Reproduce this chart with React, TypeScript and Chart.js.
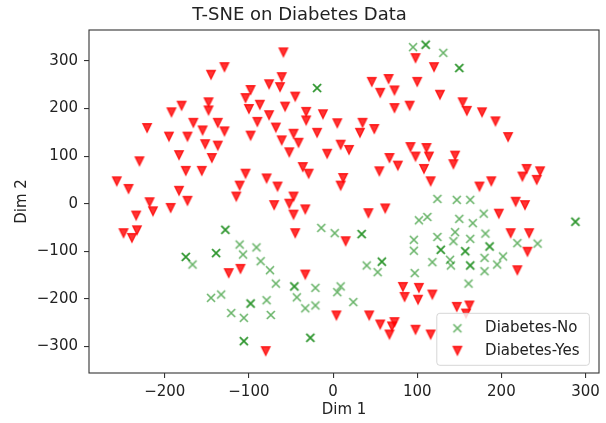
import React, { useEffect, useRef } from "react";
import { Chart, registerables } from "chart.js";

Chart.register(...registerables);

const TITLE = "T-SNE on Diabetes Data";
const X_LABEL = "Dim 1";
const Y_LABEL = "Dim 2";
const X_TICKS = [-200, -100, 0, 100, 200, 300];
const Y_TICKS = [-300, -200, -100, 0, 100, 200, 300];
const X_RANGE = [-290, 316];
const Y_RANGE = [-356, 365];
const NO_LABEL = "Diabetes-No";
const YES_LABEL = "Diabetes-Yes";

// Diabetes-No (green x); repeated entries are overlapping points
const NO_X = [
  -19, -19, -128, -128, -175, -175, -167, -139, -139, -111, -107, -91, -86, -75, -68,
  -46, -46, -21, -43, -33, -21, -14, 2, 5, -145, -133, -98, -98, -121, -106, -79, -74,
  -106, -106, -27, -27, 95, 110, 110, 131, 150, 150, 124, 147, 163, 288, 288, 34, 34,
  102, 112, 150, 179, 166, 145, 124, 96, 96, 128, 128, 143, 163, 181, 186, 186, 157, 157,
  139, 140, 163, 163, 180, 202, 195, 180, 219, 243, 118, 97, 161, 40, 58, 58, 53, 9, 24,
];
const NO_Y = [
  243, 243, -55, -55, -112, -112, -128, -104, -104, -86, -107, -92, -121, -140, -168,
  -174, -174, -177, -197, -220, -214, -51, -62, -186, -198, -191, -210, -210, -230, -240, -203, -234,
  -289, -289, -282, -282, 329, 334, 334, 317, 285, 285, 10, 8, 8, -38, -38, -64, -64,
  -35, -28, -32, -21, -41, -60, -70, -76, -99, -97, -97, -79, -74, -63, -90, -90, -100, -100,
  -118, -130, -130, -130, -114, -111, -128, -142, -83, -84, -123, -146, -168, -130, -122, -122, -144, -174, -207,
];

// Diabetes-Yes (red downward triangles)
const YES_X = [
  -59, -129, -145, -61, -76, -63, -98, -45, -104, -87, -148, -180, -192, -148, -100, -57,
  -76, -32, -32, -12, 5, -221, -166, -137, -90, -155, -129, -195, -173, -98, -68, -47,
  -19, -61, -41, -152, -137, -183, -144, -52, -7, 9, -230, -175, -156, -104, -36, -29,
  -79, -257, -243, -183, -111, -66, -115, -173, -47, -218, -214, -193, -70, -52, -33, 9,
  -234, -249, -233, -239, -47, -45, -124, -110, -33, 4, -80,
  98, 120, 46, 66, 100, 56, 73, 127, 73, 91, 154, 159, 177, 193, 208, 35, 32, 49, 19,
  92, 111, 98, 114, 145, 143, 67, 77, 55, 108, 116, 12, 174, 188, 230, 225, 246, 242,
  217, 228, 42, 62,
  197, 15, 211, 233, 231, 219, 83, 102, 85, 101, 118, 147, 162, 158, 43, 56, 73, 70, 67, 98, 116,
];
const YES_Y = [
  318, 287, 271, 266, 251, 245, 239, 225, 222, 208, 213, 206, 192, 196, 199, 204,
  186, 193, 175, 188, 169, 159, 170, 170, 172, 154, 152, 141, 141, 143, 160, 147,
  149, 133, 128, 125, 122, 102, 96, 108, 105, 124, 89, 69, 69, 63, 77, 63,
  53, 47, 31, 27, 38, 36, 15, 6, 15, 3, -16, -9, -3, 0, -12, 38,
  -25, -62, -56, -72, -23, -62, -146, -137, -149, -235, -310,
  306, 287, 256, 262, 256, 233, 238, 229, 201, 206, 213, 195, 192, 173, 140, 170, 149, 157, 113,
  119, 117, 99, 99, 101, 83, 96, 80, 68, 73, 47, 54, 36, 47, 73, 57, 68, 50,
  4, -3, -20, -10,
  -21, -79, -62, -62, -101, -140, -175, -177, -196, -202, -191, -217, -214, -231, -235, -254, -249, -258, -275, -265, -275,
];

const FONT_FAMILY = "'DejaVu Sans', 'Liberation Sans', sans-serif";
const TEXT_COLOR = "#222";
const LINE_COLOR = "#333";

function makeTriangle(): HTMLCanvasElement {
  const c = document.createElement("canvas");
  c.width = 14;
  c.height = 14;
  const g = c.getContext("2d")!;
  const h = 4.2;
  g.beginPath();
  g.moveTo(7 - h, 7 - h);
  g.lineTo(7 + h, 7 - h);
  g.lineTo(7, 7 + h);
  g.closePath();
  g.fillStyle = "rgba(255,0,0,0.8)";
  g.fill();
  g.lineWidth = 1.4;
  g.lineJoin = "miter";
  g.strokeStyle = "rgba(255,0,0,0.8)";
  g.stroke();
  return c;
}

function makeCross(): HTMLCanvasElement {
  const c = document.createElement("canvas");
  c.width = 12;
  c.height = 12;
  const g = c.getContext("2d")!;
  const h = 4.0;
  g.beginPath();
  g.moveTo(6 - h, 6 - h);
  g.lineTo(6 + h, 6 + h);
  g.moveTo(6 - h, 6 + h);
  g.lineTo(6 + h, 6 - h);
  g.lineWidth = 1.6;
  g.lineCap = "butt";
  g.strokeStyle = "rgba(0,128,0,0.6)";
  g.stroke();
  return c;
}

const fmt = (v: number | string) => String(v).replace("-", "\u2212");

const framePlugin = {
  id: "mplFrame",
  afterDatasetsDraw(chart: any) {
    const { ctx, chartArea: a } = chart;
    ctx.save();
    ctx.strokeStyle = LINE_COLOR;
    ctx.lineWidth = 1.1;
    ctx.strokeRect(a.left, a.top, a.right - a.left, a.bottom - a.top);
    ctx.restore();
  },
};

const legendPlugin = {
  id: "mplLegend",
  afterDraw(chart: any) {
    const { ctx, chartArea: a } = chart;
    const w = 152.6;
    const h = 52;
    const right = a.right - 9.6;
    const bottom = a.bottom - 7.7;
    const left = right - w;
    const top = bottom - h;
    ctx.save();
    ctx.beginPath();
    const r = 3;
    ctx.moveTo(left + r, top);
    ctx.lineTo(right - r, top);
    ctx.arcTo(right, top, right, top + r, r);
    ctx.lineTo(right, bottom - r);
    ctx.arcTo(right, bottom, right - r, bottom, r);
    ctx.lineTo(left + r, bottom);
    ctx.arcTo(left, bottom, left, bottom - r, r);
    ctx.lineTo(left, top + r);
    ctx.arcTo(left, top, left + r, top, r);
    ctx.closePath();
    ctx.fillStyle = "rgba(255,255,255,0.8)";
    ctx.fill();
    ctx.strokeStyle = "rgba(204,204,204,0.8)";
    ctx.lineWidth = 1;
    ctx.stroke();

    ctx.font = `15px ${FONT_FAMILY}`;
    ctx.fillStyle = TEXT_COLOR;
    ctx.textBaseline = "middle";
    ctx.textAlign = "left";
    const rows = [top + 15, top + 37.4];
    chart.data.datasets.forEach((ds: any, i: number) => {
      const img = ds.pointStyle as HTMLCanvasElement;
      const mx = left + 20.6;
      const my = rows[i];
      ctx.drawImage(img, mx - img.width / 2, my - img.height / 2);
      ctx.fillText(ds.label, left + 48.3, my);
    });
    ctx.restore();
  },
};

export default function App() {
  const ref = useRef<HTMLCanvasElement | null>(null);

  useEffect(() => {
    if (!ref.current) return;
    const tri = makeTriangle();
    const cross = makeCross();
    const tickFont = { family: FONT_FAMILY, size: 15 };
    const chart = new Chart(ref.current, {
      type: "scatter",
      data: {
        datasets: [
          {
            label: NO_LABEL,
            data: NO_X.map((x, i) => ({ x, y: NO_Y[i] })),
            pointStyle: cross as any,
            pointRadius: 4,
            pointHoverRadius: 4,
            order: 2,
          },
          {
            label: YES_LABEL,
            data: YES_X.map((x, i) => ({ x, y: YES_Y[i] })),
            pointStyle: tri as any,
            pointRadius: 5,
            pointHoverRadius: 5,
            order: 1,
          },
        ],
      },
      options: {
        responsive: false,
        animation: false,
        events: [],
        layout: { padding: { top: 0, right: 7, bottom: 0, left: 0 } },
        plugins: {
          legend: { display: false },
          tooltip: { enabled: false },
          title: {
            display: true,
            text: TITLE,
            color: TEXT_COLOR,
            font: { family: FONT_FAMILY, size: 18, weight: "normal" as any },
            padding: { top: 4.2, bottom: 4.2 },
          },
        },
        scales: {
          x: {
            type: "linear",
            min: X_RANGE[0],
            max: X_RANGE[1],
            afterBuildTicks: (s: any) => {
              s.ticks = X_TICKS.map((v) => ({ value: v }));
            },
            afterFit: (s: any) => {
              s.height = 50;
            },
            ticks: { font: tickFont, color: TEXT_COLOR, padding: 5, callback: (v: any) => fmt(v) },
            grid: { drawOnChartArea: false, drawTicks: true, tickLength: 5, tickColor: LINE_COLOR, lineWidth: 1.1 },
            border: { display: false },
            title: {
              display: true,
              text: X_LABEL,
              color: TEXT_COLOR,
              font: tickFont,
              padding: { top: 0, bottom: 4 },
            },
          },
          y: {
            type: "linear",
            min: Y_RANGE[0],
            max: Y_RANGE[1],
            afterBuildTicks: (s: any) => {
              s.ticks = Y_TICKS.map((v) => ({ value: v }));
            },
            afterFit: (s: any) => {
              s.width = 89;
            },
            ticks: { font: tickFont, color: TEXT_COLOR, padding: 6, callback: (v: any) => fmt(v) },
            grid: { drawOnChartArea: false, drawTicks: true, tickLength: 5, tickColor: LINE_COLOR, lineWidth: 1.1 },
            border: { display: false },
            title: {
              display: true,
              text: Y_LABEL,
              color: TEXT_COLOR,
              font: tickFont,
              padding: { top: 13, bottom: 0 },
            },
          },
        },
      },
      plugins: [framePlugin, legendPlugin],
    });
    return () => chart.destroy();
  }, []);

  return (
    <div style={{ position: "fixed", left: 0, top: 0, width: 606, height: 423, background: "#fff" }}>
      <canvas ref={ref} width={606} height={423} style={{ display: "block" }} />
    </div>
  );
}
